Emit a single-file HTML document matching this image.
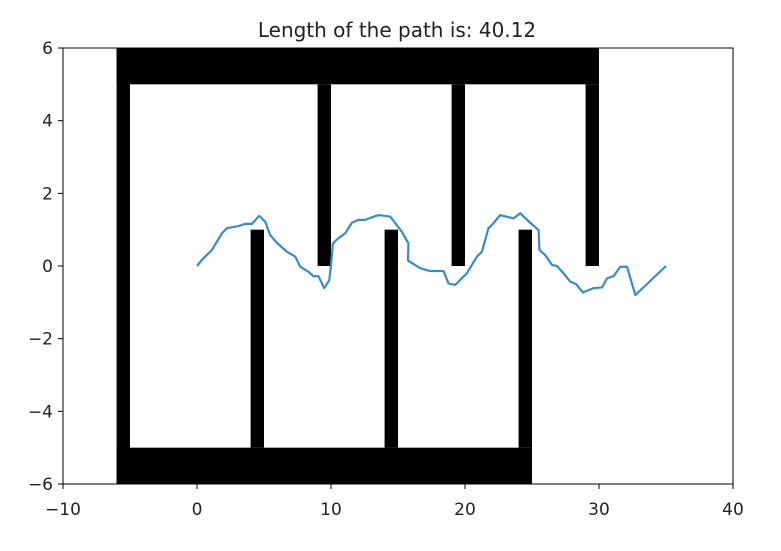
<!DOCTYPE html>
<html><head><meta charset="utf-8"><style>
body{margin:0;background:#fff;}
svg{font-family:"DejaVu Sans","Liberation Sans",sans-serif;}
</style></head><body>
<svg id="chart" width="781" height="546" xmlns="http://www.w3.org/2000/svg">
<text x="397" y="37" font-size="20" text-anchor="middle" fill="#222">Length of the path is: 40.12</text>
<g id="obs"></g>
<g id="ticks"></g>
<polyline id="path" fill="none" stroke="#3b8bc2" stroke-width="2.2" stroke-linejoin="round"></polyline>
<rect x="63" y="48" width="670" height="436" fill="none" stroke="#000" stroke-width="1"></rect>
</svg>
<script>
const pathX=[0,0.37,1.11,1.86,2.23,3.10,3.60,4.10,4.64,5.09,5.46,5.96,6.71,7.33,7.70,8.32,8.69,9.07,9.49,9.87,9.99,10.14,10.44,11.06,11.56,12.05,12.55,13.05,13.54,14.42,15.29,15.78,15.74,16.66,17.40,18.40,18.77,19.27,20.14,20.89,21.26,21.75,22.01,22.63,23.62,24.12,24.87,25.49,25.56,25.99,26.49,26.86,27.35,27.85,28.30,28.80,29.59,30.22,30.60,31.09,31.59,32.09,32.71,35];
const pathY=[0,0.17,0.44,0.90,1.04,1.10,1.16,1.16,1.38,1.22,0.85,0.64,0.39,0.26,-0.02,-0.16,-0.28,-0.28,-0.61,-0.39,-0.02,0.62,0.73,0.90,1.19,1.27,1.27,1.34,1.40,1.36,0.94,0.62,0.15,-0.06,-0.14,-0.14,-0.48,-0.52,-0.20,0.26,0.39,1.04,1.13,1.40,1.31,1.45,1.19,0.99,0.44,0.30,0.03,0,-0.20,-0.43,-0.50,-0.73,-0.61,-0.59,-0.34,-0.28,-0.02,-0.02,-0.80,0];
// obstacles: [x0,x1,y0,y1]
const obsX0=[-6,-6,-6,9,19,29,4,14,24];
const obsX1=[30,-5,25,10,20,30,5,15,25];
const obsY0=[5,-6,-6,0,0,0,-5,-5,-5];
const obsY1=[6,6,-5,5,5,5,1,1,1];
const xTicks=[-10,0,10,20,30,40];
const yTicks=[-6,-4,-2,0,2,4,6];
const L=63,R=733,T=48,B=484;
const sx=v=>L+(v+10)/50*(R-L);
const sy=v=>B-(v+6)/12*(B-T);
const NS="http://www.w3.org/2000/svg";
const og=document.getElementById('obs');
for(let i=0;i<obsX0.length;i++){
  const r=document.createElementNS(NS,'rect');
  
  
  r.setAttribute('x',sx(obsX0[i]));r.setAttribute('width',sx(obsX1[i])-sx(obsX0[i]));
  r.setAttribute('y',sy(obsY1[i]));r.setAttribute('height',sy(obsY0[i])-sy(obsY1[i]));
  r.setAttribute('fill','#000');og.appendChild(r);
}
const tg=document.getElementById('ticks');
xTicks.forEach(v=>{
  const l=document.createElementNS(NS,'line');
  
  
  l.setAttribute('x1',sx(v));l.setAttribute('x2',sx(v));l.setAttribute('y1',B);l.setAttribute('y2',B+5);l.setAttribute('stroke','#000');tg.appendChild(l);
  const t=document.createElementNS(NS,'text');
  
  
  t.setAttribute('x',sx(v));t.setAttribute('y',B+31);t.setAttribute('font-size','17');t.setAttribute('text-anchor','middle');t.setAttribute('fill','#222');
  t.textContent=v<0?'\u2212'+(-v):v;tg.appendChild(t);
});
yTicks.forEach(v=>{
  const l=document.createElementNS(NS,'line');
  
  
  l.setAttribute('x1',L-5);l.setAttribute('x2',L);l.setAttribute('y1',sy(v));l.setAttribute('y2',sy(v));l.setAttribute('stroke','#000');tg.appendChild(l);
  const t=document.createElementNS(NS,'text');
  
  
  t.setAttribute('x',L-10);t.setAttribute('y',sy(v)+6);t.setAttribute('font-size','17');t.setAttribute('text-anchor','end');t.setAttribute('fill','#222');
  t.textContent=v<0?'\u2212'+(-v):v;tg.appendChild(t);
});
document.getElementById('path').setAttribute('points',pathX.map((x,i)=>sx(x)+','+sy(pathY[i])).join(' '));
</script>
</body></html>
